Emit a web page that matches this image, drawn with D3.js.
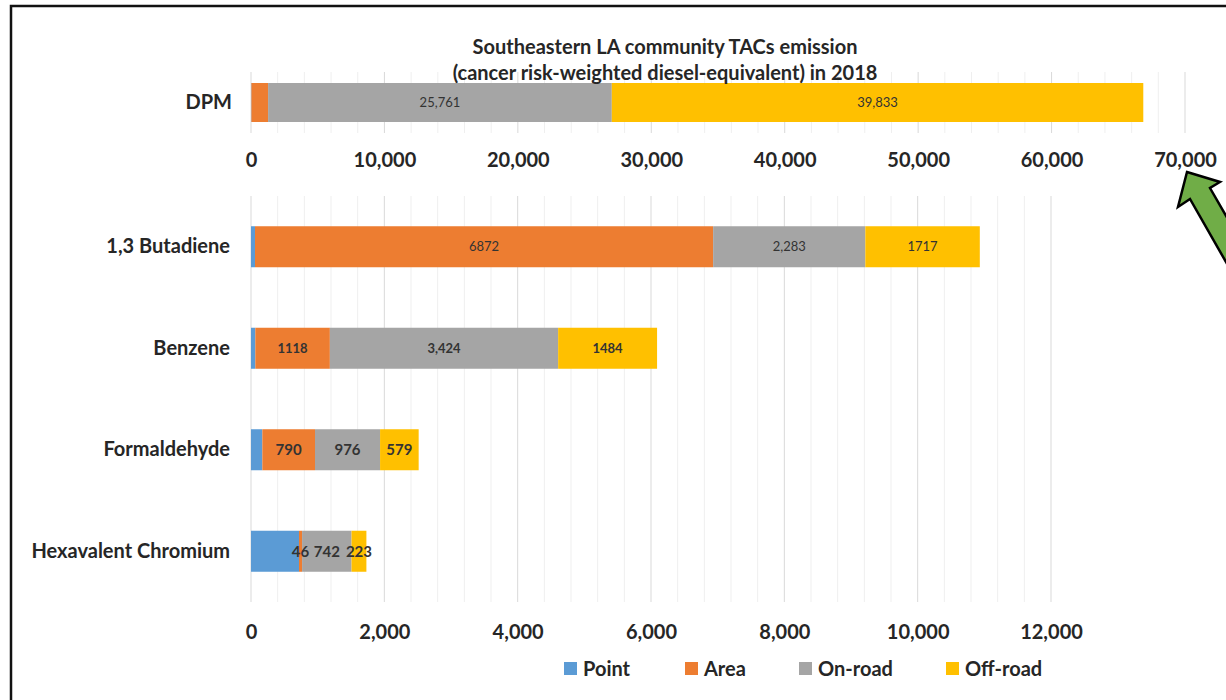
<!DOCTYPE html>
<html>
<head>
<meta charset="utf-8">
<script src="https://cdn.jsdelivr.net/npm/d3@7"></script>
<style>
  body { margin: 0; background: #fff; }
  svg { display: block; font-family: Lato, "Open Sans", sans-serif; }
</style>
</head>
<body>
<div id="chart"></div>
<script>
// ---- data ----
const seriesNames = ['Point', 'Area', 'On-road', 'Off-road'];
const seriesColors = ['#5B9BD5', '#ED7D31', '#A5A5A5', '#FFC000'];

// top panel (DPM only)
const dpmCategory = ['DPM'];
const dpmValues = [30, 1250, 25761, 39833];
const dpmLabels = ['', '', '25,761', '39,833'];
const topTicks = [0, 10000, 20000, 30000, 40000, 50000, 60000, 70000];

// bottom panel
const categories = ['1,3 Butadiene', 'Benzene', 'Formaldehyde', 'Hexavalent Chromium'];
const pointValues = [60, 65, 170, 720];
const areaValues = [6872, 1118, 790, 46];
const onroadValues = [2283, 3424, 976, 742];
const offroadValues = [1717, 1484, 579, 223];
const bottomLabels = [
  ['', '6872', '2,283', '1717'],
  ['', '1118', '3,424', '1484'],
  ['', '790', '976', '579'],
  ['', '46', '742', '223']
];
const bottomTicks = [0, 2000, 4000, 6000, 8000, 10000, 12000];

const width = 1226, height = 700;
const textColor = '#262626';

const svg = d3.select('#chart').append('svg')
  .attr('width', width)
  .attr('height', height);

// frame around the picture
svg.append('rect')
  .attr('x', 11).attr('y', 6)
  .attr('width', 1400).attr('height', 900)
  .attr('fill', 'none')
  .attr('stroke', '#111')
  .attr('stroke-width', 2.5);

// helper: gridlines
function grid(g, x, y0, y1, max, minorStep, majorStep) {
  const minor = d3.range(0, max + 1, minorStep);
  g.selectAll('.grid')
    .data(minor)
    .enter().append('line')
    .attr('x1', d => x(d)).attr('x2', d => x(d))
    .attr('y1', y0).attr('y2', y1)
    .attr('stroke', d => (d % majorStep === 0) ? '#d9d9d9' : '#efefef')
    .attr('stroke-width', 1);
}

function styleAxisText(sel) {
  sel.selectAll('text')
    .style('font-family', 'Lato, sans-serif')
    .style('font-size', '20px')
    .style('font-weight', 'bold')
    .style('fill', textColor);
}

// ---- top panel ----
const xTop = d3.scaleLinear().domain([0, 70000]).range([251, 1185]);
const yTop = d3.scaleBand().domain(dpmCategory).range([72, 133]).padding(0.22);

const topPanel = svg.append('g');
grid(topPanel, xTop, 72, 133, 70000, 2000, 10000);

const dpmRow = [Object.fromEntries(seriesNames.map((s, i) => [s, dpmValues[i]]))];
dpmRow[0].name = 'DPM';
const dpmStack = d3.stack().keys(seriesNames)(dpmRow);

topPanel.selectAll('.seg')
  .data(dpmStack)
  .enter().append('rect')
  .attr('x', d => xTop(d[0][0]))
  .attr('y', yTop('DPM'))
  .attr('width', d => xTop(d[0][1]) - xTop(d[0][0]))
  .attr('height', yTop.bandwidth())
  .attr('fill', (d, i) => seriesColors[i]);

topPanel.selectAll('.seg-label')
  .data(dpmStack)
  .enter().append('text')
  .attr('x', d => (xTop(d[0][0]) + xTop(d[0][1])) / 2)
  .attr('y', yTop('DPM') + yTop.bandwidth() / 2)
  .attr('dy', '0.35em')
  .attr('text-anchor', 'middle')
  .style('font-size', '13px')
  .style('fill', '#333')
  .text((d, i) => dpmLabels[i]);

topPanel.append('g')
  .attr('transform', 'translate(232,0)')
  .call(d3.axisLeft(yTop).tickSize(0).tickPadding(0))
  .call(g => g.select('.domain').remove())
  .call(styleAxisText);

topPanel.append('g')
  .attr('transform', 'translate(0,153)')
  .call(d3.axisBottom(xTop).tickValues(topTicks).tickFormat(d3.format(',')).tickSize(0).tickPadding(0))
  .call(g => g.select('.domain').remove())
  .call(styleAxisText);

// title
const title = svg.append('text')
  .attr('text-anchor', 'middle')
  .style('font-size', '20px')
  .style('font-weight', 'bold')
  .style('fill', textColor);
title.append('tspan').attr('x', 665).attr('y', 54).text('Southeastern LA community TACs emission');
title.append('tspan').attr('x', 665).attr('y', 80).text('(cancer risk-weighted diesel-equivalent) in 2018');

// ---- bottom panel ----
const xBot = d3.scaleLinear().domain([0, 12000]).range([251, 1051]);
const yBot = d3.scaleBand().domain(categories).range([196, 602]).paddingInner(0.596).paddingOuter(0.298);

const bottomPanel = svg.append('g');
grid(bottomPanel, xBot, 196, 602, 12000, 400, 2000);

const rows = categories.map((c, i) => ({
  name: c,
  'Point': pointValues[i],
  'Area': areaValues[i],
  'On-road': onroadValues[i],
  'Off-road': offroadValues[i]
}));
const stack = d3.stack().keys(seriesNames)(rows);

const layers = bottomPanel.selectAll('.layer')
  .data(stack)
  .enter().append('g')
  .attr('fill', (d, i) => seriesColors[i]);

layers.selectAll('rect')
  .data(d => d)
  .enter().append('rect')
  .attr('x', d => xBot(d[0]))
  .attr('y', d => yBot(d.data.name))
  .attr('width', d => xBot(d[1]) - xBot(d[0]))
  .attr('height', yBot.bandwidth());

// data labels
const labelStyle = [
  { size: 13, weight: 'normal' },
  { size: 13, weight: 'bold' },
  { size: 15, weight: 'bold' },
  { size: 15, weight: 'bold' }
];
stack.forEach((layer, si) => {
  bottomPanel.selectAll('.lbl' + si)
    .data(layer)
    .enter().append('text')
    .attr('x', d => (xBot(d[0]) + xBot(d[1])) / 2)
    .attr('y', d => yBot(d.data.name) + yBot.bandwidth() / 2)
    .attr('dy', '0.35em')
    .attr('text-anchor', 'middle')
    .style('font-size', (d, i) => labelStyle[i].size + 'px')
    .style('font-weight', (d, i) => labelStyle[i].weight)
    .style('fill', '#333')
    .text((d, i) => bottomLabels[i][si]);
});

bottomPanel.append('g')
  .attr('transform', 'translate(230,0)')
  .call(d3.axisLeft(yBot).tickSize(0).tickPadding(0))
  .call(g => g.select('.domain').remove())
  .call(styleAxisText);

bottomPanel.append('g')
  .attr('transform', 'translate(0,625)')
  .call(d3.axisBottom(xBot).tickValues(bottomTicks).tickFormat(d3.format(',')).tickSize(0).tickPadding(0))
  .call(g => g.select('.domain').remove())
  .call(styleAxisText);

// ---- legend ----
const legendX = [564, 685, 799, 946];
const legend = svg.append('g');
const items = legend.selectAll('.item')
  .data(seriesNames)
  .enter().append('g')
  .attr('transform', (d, i) => `translate(${legendX[i]},662)`);
items.append('rect')
  .attr('width', 13).attr('height', 13)
  .attr('fill', (d, i) => seriesColors[i]);
items.append('text')
  .attr('x', 19).attr('y', 7)
  .attr('dy', '0.35em')
  .style('font-size', '20px')
  .style('font-weight', 'bold')
  .style('fill', textColor)
  .text(d => d);

// ---- green callout arrow pointing at the 70,000 label ----
const arrow = [
  [1187, 172], [1220, 182], [1210, 188], [1310, 362],
  [1290, 374], [1190, 199], [1178, 207]
];
svg.append('path')
  .attr('d', d3.line()(arrow) + 'Z')
  .attr('fill', '#70AD47')
  .attr('stroke', '#000')
  .attr('stroke-width', 2.5)
  .attr('stroke-linejoin', 'miter');
</script>
</body>
</html>
